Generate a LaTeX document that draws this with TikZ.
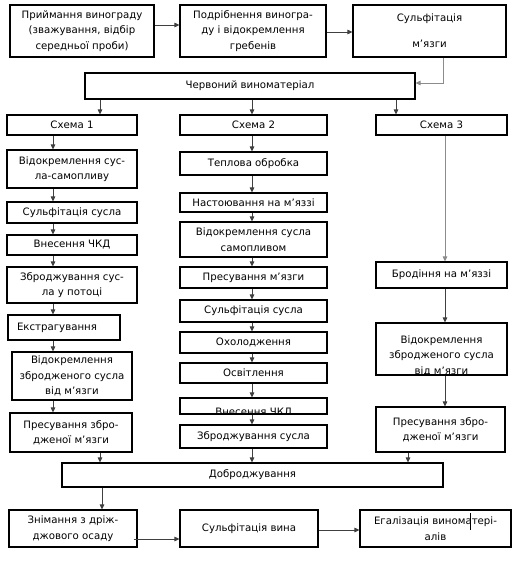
\documentclass[tikz,border=0pt]{standalone}
\usepackage{fontspec}
\setmainfont{DejaVu Sans}
\usetikzlibrary{arrows.meta}
\begin{document}
\begin{tikzpicture}[x=1pt,y=-1pt,
 box/.style={draw=black,line width=1.1pt,inner sep=0pt,align=center,font=\fontsize{10.2}{15.5}\selectfont},
 txt/.style={inner sep=0pt,align=center,font=\fontsize{10.2}{15.5}\selectfont},
 arr/.style={draw=black!75,line width=0.9pt,-{Triangle[length=5pt,width=4.5pt]}},
 arrg/.style={arr,draw=black!45},
]
\useasboundingbox[fill=white] (0,0) rectangle (526,562);
% top row
\node[box,minimum width=144,minimum height=52] (A) at (82,31) {Приймання винограду\\(зважування, відбір\\середньої проби)};
\node[box,minimum width=146,minimum height=52] (B) at (253,31) {Подрібнення виногра-\\ду і відокремлення\\гребенів};
\node[box,minimum width=153,minimum height=52] (C) at (429.5,31) {Сульфітація\\[10.5pt]м’язги};
\node[box,minimum width=330,minimum height=26] (W) at (250,86) {Червоний виноматеріал};
% schemes
\node[box,minimum width=130,minimum height=20] (S1) at (72,125) {Схема 1};
\node[box,minimum width=147,minimum height=20] (S2) at (253.5,125) {Схема 2};
\node[box,minimum width=131,minimum height=20] (S3) at (441.5,125) {Схема 3};
% column 1
\node[box,minimum width=130,minimum height=38] (c1a) at (72,169) {Відокремлення сус-\\ла-самопливу};
\node[box,minimum width=130,minimum height=21] (c1b) at (72,212.5) {Сульфітація сусла};
\node[box,minimum width=130,minimum height=20] (c1c) at (72,245) {Внесення ЧКД};
\node[box,minimum width=130,minimum height=36] (c1d) at (72,285) {Зброджування сус-\\ла у потоці};
\node[box,minimum width=112,minimum height=25,text width=94pt,align=left] (c1e) at (64,327.5) {Екстрагування};
\node[box,minimum width=120,minimum height=48] (c1f) at (72,376) {Відокремлення\\збродженого сусла\\від м’язги};
\node[box,minimum width=122,minimum height=39] (c1g) at (71,432.5) {Пресування збро-\\дженої м’язги};
% column 2
\node[box,minimum width=147,minimum height=23] (c2a) at (253.5,163.5) {Теплова обробка};
\node[box,minimum width=147,minimum height=19] (c2b) at (253.5,202.5) {Настоювання на м’яззі};
\node[box,minimum width=147,minimum height=35] (c2c) at (253.5,239.5) {Відокремлення сусла\\самопливом};
\node[box,minimum width=147,minimum height=21] (c2d) at (253.5,277.5) {Пресування м’язги};
\node[box,minimum width=147,minimum height=22] (c2e) at (253.5,311) {Сульфітація сусла};
\node[box,minimum width=147,minimum height=21] (c2f) at (253.5,342.5) {Охолодження};
\node[box,minimum width=147,minimum height=20] (c2g) at (253.5,373) {Освітлення};
\node[box,minimum width=147,minimum height=16] (c2h) at (253.5,406) {};
\begin{scope}
\clip (c2h.south west) rectangle (c2h.north east);
\node[txt,anchor=base] at (253.5,415) {Внесення ЧКЛ};
\end{scope}
\node[box,minimum width=147,minimum height=23] (c2i) at (253.5,436.5) {Зброджування сусла};
% column 3
\node[box,minimum width=131,minimum height=26] (c3a) at (441.5,275) {Бродіння на м’яззі};
\node[box,minimum width=131,minimum height=52] (c3b) at (441.5,349) {};
\begin{scope}
\clip (c3b.south west) rectangle (c3b.north east);
\node[txt] at (441.5,355.5) {Відокремлення\\збродженого сусла\\від м’язги};
\end{scope}
\node[box,minimum width=129,minimum height=45] (c3c) at (440.5,429.5) {Пресування збро-\\дженої м’язги};
% bottom
\node[box,minimum width=381,minimum height=24] (D) at (252.5,475) {Доброджування};
\node[box,minimum width=128,minimum height=37] (E1) at (73,528.5) {Знімання з дріж-\\джового осаду};
\node[box,minimum width=138,minimum height=37] (E2) at (249,528.5) {Сульфітація вина};
\node[box,minimum width=151,minimum height=37] (E3) at (435.5,528.5) {Егалізація виноматері-\\алів};
\coordinate (cur1) at (470,513);
\coordinate (cur2) at (470,530);
\draw[line width=0.8pt] (cur1) -- (cur2);
% connectors top
\draw[arr] ([yshift=6pt]A.east) -- ([yshift=6pt]B.west);
\draw[arr] ([yshift=-1pt]B.east) -- ([yshift=-1pt]C.west);
\draw[arrg] ([xshift=13.5pt]C.south) |- ([yshift=3pt]W.east);
\draw[arr] ([xshift=-150pt]W.south) -- ([xshift=28pt]S1.north);
\draw[arr] ([xshift=2pt]W.south) -- ([xshift=-1.5pt]S2.north);
\draw[arr] ([xshift=146pt]W.south) -- ([xshift=-45.5pt]S3.north);
% column 1 connectors
\foreach \a/\b in {S1/c1a,c1a/c1b,c1b/c1c,c1c/c1d}
  \draw[arr] ([xshift=-19pt]\a.south) -- ([xshift=-19pt]\b.north);
\draw[arr] ([xshift=-19pt]c1d.south) -- ([xshift=-11pt]c1e.north);
\draw[arr] ([xshift=-11pt]c1e.south) -- ([xshift=-19pt]c1f.north);
\draw[arr] ([xshift=-19pt]c1f.south) -- ([xshift=-18pt]c1g.north);
\draw[arr] ([xshift=29pt]c1g.south) -- ([xshift=-152.5pt]D.north);
% column 2 connectors
\foreach \a/\b in {S2/c2a,c2a/c2b,c2b/c2c,c2c/c2d,c2d/c2e,c2e/c2f,c2f/c2g,c2g/c2h,c2h/c2i}
  \draw[arr] ([xshift=-1.5pt]\a.south) -- ([xshift=-1.5pt]\b.north);
\draw[arr] ([xshift=-1.5pt]c2i.south) -- ([xshift=-0.5pt]D.north);
% column 3 connectors
\draw[arrg] ([xshift=3.5pt]S3.south) -- ([xshift=3.5pt]c3a.north);
\draw[arr] ([xshift=3.5pt]c3a.south) -- ([xshift=3.5pt]c3b.north);
\draw[arr] ([xshift=3.5pt]c3b.south) -- ([xshift=4.5pt]c3c.north);
\draw[arr] ([xshift=-32.5pt]c3c.south) -- ([xshift=155.5pt]D.north);
% bottom connectors
\draw[arr] ([xshift=-150.5pt]D.south) -- ([xshift=29pt]E1.north);
\draw[arr] ([xshift=-4pt,yshift=-10.5pt]E1.east) -- ([yshift=-10.5pt]E2.west);
\draw[arr] ([yshift=-1.5pt]E2.east) -- ([yshift=-1.5pt]E3.west);
\end{tikzpicture}
\end{document}
